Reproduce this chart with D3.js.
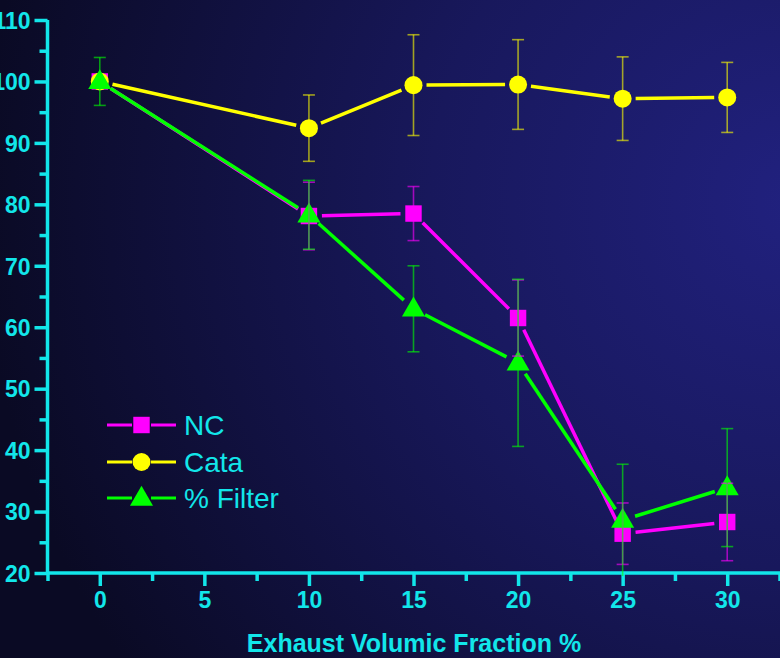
<!DOCTYPE html>
<html><head><meta charset="utf-8">
<script src="https://cdn.jsdelivr.net/npm/d3@7"></script>
<style>html,body{margin:0;padding:0;background:#0b0b28;overflow:hidden}</style>
</head><body>
<svg id="chart" width="780" height="658"></svg>
<script>
const xValues = [0, 10, 15, 20, 25, 30];
const ncValues = [100, 78.1, 78.5, 61.5, 26.4, 28.3];
const ncErrors = [0, 5.5, 4.4, 6.2, 5.0, 6.3];
const cataValues = [100, 92.4, 99.4, 99.5, 97.2, 97.4];
const cataErrors = [0, 5.4, 8.2, 7.3, 6.8, 5.7];
const filterValues = [100, 78.3, 63.0, 54.2, 28.6, 33.9];
const filterErrors = [3.9, 5.6, 7.0, 13.6, 9.1, 9.6];
const xTicks = [0, 5, 10, 15, 20, 25, 30];
const yTicks = [20, 30, 40, 50, 60, 70, 80, 90, 100, 110];
const seriesNames = ["NC", "Cata", "% Filter"];
const xTitle = "Exhaust Volumic Fraction %";

const W = 780, H = 658;
const svg = d3.select("#chart");
const CYAN = "#12e6ea";

const defs = svg.append("defs");
const rg = defs.append("radialGradient").attr("id", "bg")
  .attr("gradientUnits", "userSpaceOnUse")
  .attr("cx", 800).attr("cy", 200).attr("r", 820);
rg.append("stop").attr("offset", "0%").attr("stop-color", "#21217f");
rg.append("stop").attr("offset", "45%").attr("stop-color", "#18185c");
rg.append("stop").attr("offset", "100%").attr("stop-color", "#0a0a24");
svg.append("rect").attr("width", W).attr("height", H).attr("fill", "url(#bg)");

const x = d3.scaleLinear().domain([-2.5, 32.5]).range([47.5, 779.5]);
const y = d3.scaleLinear().domain([20, 110]).range([573, 20]);

// Axes
const yAxis = svg.append("g").attr("transform", `translate(${x(-2.5)},0)`)
  .call(d3.axisLeft(y).tickValues(yTicks).tickSize(13).tickPadding(4).tickFormat(d3.format("d")));
const yMinor = svg.append("g").attr("transform", `translate(${x(-2.5)},0)`)
  .call(d3.axisLeft(y).tickValues(d3.range(25, 110, 10)).tickSize(8).tickFormat(""));
const xAxis = svg.append("g").attr("transform", `translate(0,${y(20)})`)
  .call(d3.axisBottom(x).tickValues(xTicks).tickSize(13).tickPadding(6).tickFormat(d3.format("d")));
const xMinor = svg.append("g").attr("transform", `translate(0,${y(20)})`)
  .call(d3.axisBottom(x).tickValues(d3.range(-2.5, 33, 5)).tickSize(8).tickFormat(""));

[yAxis, yMinor, xAxis, xMinor].forEach(g => {
  g.select(".domain").attr("stroke", CYAN).attr("stroke-width", 3.5);
  g.selectAll(".tick line").attr("stroke", CYAN).attr("stroke-width", 3.5);
  g.selectAll(".tick text").attr("fill", CYAN)
    .attr("font-family", "Liberation Sans, Arial, sans-serif")
    .attr("font-weight", "bold").attr("font-size", 23);
});
yAxis.select(".domain").attr("d", `M0,${y(110)}V${y(20)}`);
yMinor.select(".domain").remove();
xMinor.select(".domain").remove();
xAxis.select(".domain").attr("d", `M${x(-2.5)},0H${W}`);
yAxis.selectAll(".tick text").attr("dy", "0.36em");

svg.append("text").attr("x", 414).attr("y", 652).attr("text-anchor", "middle")
  .attr("fill", CYAN).attr("font-family", "Liberation Sans, Arial, sans-serif")
  .attr("font-weight", "bold").attr("font-size", 25).text(xTitle);

const series = [
  {name: seriesNames[0], vals: ncValues, errs: ncErrors, color: "#ff00ff", shape: d3.symbolSquare, size: 270},
  {name: seriesNames[1], vals: cataValues, errs: cataErrors, color: "#ffff00", shape: d3.symbolCircle, size: 255},
  {name: seriesNames[2], vals: filterValues, errs: filterErrors, color: "#00ff00", shape: d3.symbolTriangle, size: 230}
];

const GAP = 13;
function segs(pts) {
  const out = [];
  for (let i = 0; i < pts.length - 1; i++) {
    const [x1, y1] = pts[i], [x2, y2] = pts[i + 1];
    const dx = x2 - x1, dy = y2 - y1, L = Math.hypot(dx, dy);
    if (L <= 2 * GAP) continue;
    const ux = dx / L, uy = dy / L;
    out.push([x1 + ux * GAP, y1 + uy * GAP, x2 - ux * GAP, y2 - uy * GAP]);
  }
  return out;
}

// Lines
series.forEach(s => {
  const pts = xValues.map((xv, i) => [x(xv), y(s.vals[i])]);
  svg.append("g").selectAll("line").data(segs(pts)).join("line")
    .attr("x1", d => d[0]).attr("y1", d => d[1]).attr("x2", d => d[2]).attr("y2", d => d[3])
    .attr("stroke", s.color).attr("stroke-width", 3.5);
});

// Markers
series.forEach(s => {
  svg.append("g").selectAll("path").data(xValues).join("path")
    .attr("transform", (d, i) => `translate(${x(d)},${y(s.vals[i]) + (s.shape === d3.symbolTriangle ? 1 : 0)})`)
    .attr("d", d3.symbol().type(s.shape).size(s.size))
    .attr("fill", s.color);
});

// Error bars
series.forEach(s => {
  const g = svg.append("g").attr("stroke", s.color).attr("stroke-opacity", 0.6).attr("stroke-width", 1.6);
  xValues.forEach((xv, i) => {
    const e = s.errs[i];
    if (!e) return;
    const cx = x(xv), t = y(s.vals[i] + e), b = Math.min(y(s.vals[i] - e), y(20) + 4);
    g.append("line").attr("x1", cx).attr("x2", cx).attr("y1", t).attr("y2", b);
    g.append("line").attr("x1", cx - 6).attr("x2", cx + 6).attr("y1", t).attr("y2", t);
    if (s.vals[i] - e >= 20) g.append("line").attr("x1", cx - 6).attr("x2", cx + 6).attr("y1", b).attr("y2", b);
  });
});

// Legend
const legend = svg.append("g");
const legY = [425, 462, 498];
series.forEach((s, i) => {
  const g = legend.append("g").attr("transform", `translate(0,${legY[i]})`);
  g.append("line").attr("x1", 107).attr("x2", 132).attr("y1", 0).attr("y2", 0).attr("stroke", s.color).attr("stroke-width", 3);
  g.append("line").attr("x1", 151).attr("x2", 176).attr("y1", 0).attr("y2", 0).attr("stroke", s.color).attr("stroke-width", 3);
  g.append("path").attr("transform", `translate(141.5,${s.shape === d3.symbolTriangle ? 1 : 0})`)
    .attr("d", d3.symbol().type(s.shape).size(s.size)).attr("fill", s.color);
  g.append("text").attr("x", 184).attr("y", 0).attr("dy", "0.36em")
    .attr("fill", CYAN).attr("font-family", "Liberation Sans, Arial, sans-serif")
    .attr("font-size", 28).text(s.name);
});
</script>
</body></html>
